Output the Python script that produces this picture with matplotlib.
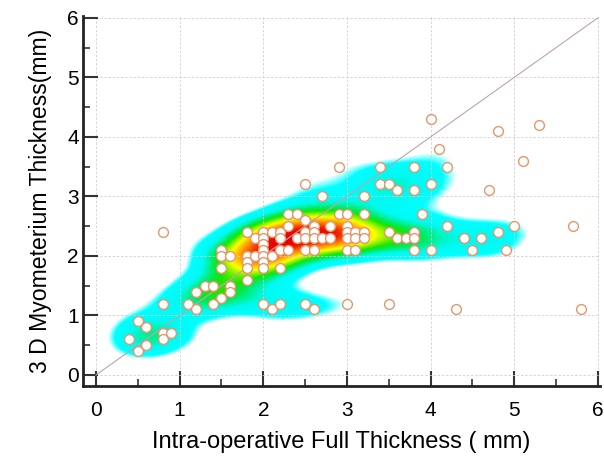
import numpy as np
import matplotlib
matplotlib.use("Agg")
import matplotlib.pyplot as plt
from matplotlib.colors import LinearSegmentedColormap

plt.rcParams['font.family'] = ['Liberation Sans', 'DejaVu Sans']

# intra-operative full thickness (mm)
full_thickness = [
    0.4, 0.5, 0.5, 0.6, 0.6, 0.8, 0.8, 0.8, 0.8, 0.9,
    1.1, 1.2, 1.2, 1.3, 1.4, 1.4, 1.5, 1.6, 1.6, 1.5,
    1.5, 1.5, 1.6, 1.8, 1.8, 1.8, 1.8, 1.8, 1.9, 1.9,
    2.0, 2.0, 2.0, 2.0, 2.0, 2.0, 2.0, 2.0, 2.1, 2.1,
    2.1, 2.2, 2.2, 2.2, 2.2, 2.2, 2.3, 2.3, 2.3, 2.4,
    2.4, 2.5, 2.5, 2.5, 2.5, 2.5, 2.5, 2.6, 2.6, 2.6,
    2.6, 2.6, 2.7, 2.7, 2.8, 2.8, 2.9, 2.9, 3.0, 3.0,
    3.0, 3.0, 3.0, 3.0, 3.1, 3.1, 3.1, 3.2, 3.2, 3.2,
    3.2, 3.4, 3.4, 3.5, 3.5, 3.5, 3.6, 3.6, 3.7, 3.8,
    3.8, 3.8, 3.8, 3.8, 3.9, 4.0, 4.0, 4.0, 4.1, 4.2,
    4.2, 4.3, 4.4, 4.5, 4.6, 4.7, 4.8, 4.8, 4.9, 5.0,
    5.1, 5.3, 5.7, 5.8,
]
# 3D myometerium thickness (mm)
myo_thickness = [
    0.6, 0.4, 0.9, 0.8, 0.5, 2.4, 1.2, 0.7, 0.6, 0.7,
    1.2, 1.4, 1.1, 1.5, 1.5, 1.2, 1.3, 1.5, 1.4, 2.1,
    2.0, 1.8, 2.0, 2.4, 2.0, 1.9, 1.8, 1.6, 2.3, 2.0,
    2.4, 2.3, 2.2, 2.1, 2.0, 1.9, 1.8, 1.2, 2.4, 2.0,
    1.1, 2.4, 2.3, 2.1, 1.8, 1.2, 2.7, 2.5, 2.1, 2.7,
    2.3, 2.6, 2.4, 2.3, 2.1, 3.2, 1.2, 2.5, 2.4, 2.3,
    2.1, 1.1, 3.0, 2.3, 2.5, 2.3, 3.5, 2.7, 2.7, 2.5,
    2.4, 2.3, 2.1, 1.2, 2.4, 2.3, 2.1, 3.0, 2.7, 2.4,
    2.3, 3.5, 3.2, 3.2, 2.4, 1.2, 3.1, 2.3, 2.3, 3.5,
    3.1, 2.4, 2.3, 2.1, 2.7, 4.3, 3.2, 2.1, 3.8, 3.5,
    2.5, 1.1, 2.3, 2.1, 2.3, 3.1, 4.1, 2.4, 2.1, 2.5,
    3.6, 4.2, 2.5, 1.1,
]

x = np.array(full_thickness)
y = np.array(myo_thickness)

fig = plt.figure(figsize=(6.04, 4.62), dpi=100)
ax = fig.add_axes([83/604, 76/462, 517/604, 370/462])
xlim = (-0.155, 6.024)
ylim = (-0.185, 6.03)

# density map (gaussian kernel, 1 = one isolated point)
gx = np.linspace(xlim[0], xlim[1], 400)
gy = np.linspace(ylim[0], ylim[1], 400)
GX, GY = np.meshgrid(gx, gy)
sx, sy = 0.32, 0.22
dens = np.zeros_like(GX)
for xi, yi in zip(x, y):
    dens += np.exp(-0.5 * (((GX - xi) / sx) ** 2 + ((GY - yi) / sy) ** 2))

thr0, thr1 = 2.1, 2.8
top = dens.max()
cmap = LinearSegmentedColormap.from_list('heat', [
    (0.0, (0.0, 1.0, 1.0)),
    (0.13, (0.0, 0.98, 0.95)),
    (0.27, (0.0, 0.92, 0.35)),
    (0.35, (0.1, 0.9, 0.0)),
    (0.55, (1.0, 1.0, 0.0)),
    (0.75, (1.0, 0.5, 0.0)),
    (0.92, (0.93, 0.05, 0.0)),
    (1.0, (0.9, 0.0, 0.0)),
])
rgba = cmap(np.clip((dens - thr1) / (top - thr1), 0, 1))
rgba[..., 3] = np.clip((dens - thr0) / (thr1 - thr0), 0, 1)
ax.imshow(rgba, extent=(xlim[0], xlim[1], ylim[0], ylim[1]), origin='lower',
          aspect='auto', zorder=0, interpolation='bilinear')

ax.plot([0, 6], [0, 6], color='#bfa3ae', lw=0.8, zorder=2)
ax.scatter(x, y, s=50, facecolor='white', edgecolor='#e3976c', linewidth=1.0, zorder=3)

ax.set_xlim(xlim)
ax.set_ylim(ylim)
ax.set_xticks(range(7))
ax.set_yticks(range(7))
ax.set_xticks(np.arange(0.5, 6, 1), minor=True)
ax.set_yticks(np.arange(0.5, 6, 1), minor=True)
ax.grid(True, which='major', color='#d0d0d0', linestyle=(0, (3, 2)), linewidth=0.6)
ax.tick_params(which='major', direction='in', length=11, width=1.5, color='#333333',
               labelsize=15)
ax.tick_params(axis='x', which='major', pad=11)
ax.tick_params(axis='y', which='major', pad=3)
ax.tick_params(which='minor', direction='in', length=5, width=1.2, color='#333333')
for side in ['top', 'right']:
    ax.spines[side].set_visible(False)
for side in ['left', 'bottom']:
    ax.spines[side].set_linewidth(2)
    ax.spines[side].set_color('#222222')

ax.set_xlabel('Intra-operative Full Thickness ( mm)', fontsize=17, labelpad=8)
ax.set_ylabel('3 D Myometerium Thickness(mm)', fontsize=16.6, labelpad=11)

plt.savefig('out.png', dpi=100)
